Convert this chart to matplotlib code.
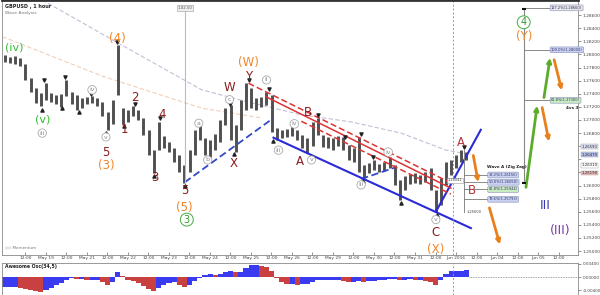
import matplotlib
matplotlib.use('Agg')
import matplotlib.pyplot as plt
import matplotlib.transforms as mtransforms
import numpy as np

# hourly axis, 3-hour bars (hours counted from left edge)
bar_hours = np.arange(91) * 3 + 1.5

highs = [1.2799, 1.2796, 1.2798, 1.2795, 1.2785, 1.2764, 1.2749, 1.2741, 1.2756, 1.2741,
         1.2738, 1.2740, 1.2761, 1.2743, 1.2738, 1.2734, 1.2735, 1.2737, 1.2734, 1.2727,
         1.2712, 1.2730, 1.2814, 1.2718, 1.2715, 1.2721, 1.2715, 1.2703, 1.2685, 1.2654,
         1.2697, 1.2676, 1.2666, 1.2657, 1.2647, 1.2631, 1.2654, 1.2685, 1.2692, 1.2673,
         1.2670, 1.2679, 1.2700, 1.2718, 1.2723, 1.2692, 1.2730, 1.2756, 1.2749, 1.2734,
         1.2735, 1.2743, 1.2738, 1.2688, 1.2685, 1.2686, 1.2691, 1.2685, 1.2677, 1.2673,
         1.2697, 1.2703, 1.2677, 1.2674, 1.2673, 1.2676, 1.2674, 1.2662, 1.2657, 1.2674,
         1.2631, 1.2634, 1.2639, 1.2633, 1.2636, 1.2644, 1.2631, 1.2608, 1.2615, 1.2618,
         1.2619, 1.2616, 1.2621, 1.2627, 1.2593, 1.2612, 1.2636, 1.2639, 1.2647, 1.2654,
         1.2651]
lows = [1.2788, 1.2787, 1.2785, 1.2782, 1.2761, 1.2743, 1.2726, 1.2721, 1.2730, 1.2727,
        1.2724, 1.2720, 1.2737, 1.2724, 1.2715, 1.2718, 1.2724, 1.2726, 1.2721, 1.2706,
        1.2685, 1.2694, 1.2738, 1.2694, 1.2697, 1.2706, 1.2700, 1.2677, 1.2647, 1.2619,
        1.2654, 1.2657, 1.2651, 1.2636, 1.2621, 1.2604, 1.2621, 1.2647, 1.2670, 1.2647,
        1.2644, 1.2654, 1.2666, 1.2692, 1.2670, 1.2651, 1.2685, 1.2715, 1.2718, 1.2715,
        1.2720, 1.2723, 1.2682, 1.2670, 1.2673, 1.2674, 1.2676, 1.2670, 1.2657, 1.2650,
        1.2660, 1.2677, 1.2659, 1.2657, 1.2654, 1.2660, 1.2654, 1.2639, 1.2636, 1.2621,
        1.2612, 1.2619, 1.2624, 1.2621, 1.2622, 1.2627, 1.2601, 1.2578, 1.2593, 1.2602,
        1.2604, 1.2602, 1.2605, 1.2593, 1.2560, 1.2570, 1.2601, 1.2616, 1.2627, 1.2636,
        1.2639]
awesome = [-0.0030, -0.0030, -0.0030, -0.0033, -0.0036, -0.0039, -0.0042, -0.0045, -0.0039, -0.0033,
           -0.0024, -0.0018, -0.0009, -0.0003, -0.0006, -0.0006, -0.0009, -0.0009, -0.0009, -0.0015,
           -0.0024, -0.0015, 0.0015, 0.0003, -0.0009, -0.0012, -0.0018, -0.0027, -0.0036, -0.0042,
           -0.0033, -0.0024, -0.0018, -0.0015, -0.0024, -0.0030, -0.0024, -0.0012, -0.0003, 0.0006,
           0.0009, 0.0006, 0.0009, 0.0015, 0.0018, 0.0015, 0.0015, 0.0027, 0.0036, 0.0036,
           0.0033, 0.0030, 0.0018, -0.0003, -0.0015, -0.0021, -0.0021, -0.0024, -0.0021, -0.0021,
           -0.0015, -0.0009, -0.0009, -0.0009, -0.0009, -0.0009, -0.0012, -0.0015, -0.0015, -0.0012,
           -0.0015, -0.0012, -0.0012, -0.0009, -0.0009, -0.0006, -0.0006, -0.0009, -0.0009, -0.0006,
           -0.0009, -0.0009, -0.0012, -0.0015, -0.0024, -0.0009, 0.0009, 0.0018, 0.0018, 0.0018,
           0.0021]

tick_hours = 13.4 + 12 * np.arange(27)
tick_labels = ['12:00', 'May 19', '12:00', 'May 21', '12:00', 'May 22', '12:00', 'May 23',
               '12:00', 'May 24', '12:00', 'May 25', '12:00', 'May 26', '12:00', 'May 29',
               '12:00', 'May 30', '12:00', 'May 31', '12:00', 'Jun 2016', '12:00', 'Jun 04',
               '12:00', 'Jun 05', '12:00']
price_ticks = np.arange(1.250, 1.2861, 0.002)

# moving averages (dashed)
ma_slow_h = [23.3, 70.0, 116.6, 145.8, 174.9, 204.1, 233.2, 259.5, 274.1]
ma_slow_p = [1.2883, 1.2814, 1.2746, 1.2726, 1.2708, 1.2697, 1.2680, 1.2654, 1.2647]
ma_fast_h = [0, 58.3, 116.6, 151.6]
ma_fast_p = [1.2827, 1.2767, 1.2718, 1.2703]

# trend lines: (hours, prices)
blue_dashed = [([106.7, 158.6], [1.2605, 1.2703]), ([209.9, 229.2], [1.2610, 1.2627])]
blue_solid = [([158.6, 274.1], [1.2673, 1.2535]), ([253.6, 279.9], [1.2560, 1.2685])]
red_lines = [([144.0, 262.4], [1.2756, 1.2604], '--'),
             ([154.5, 262.4], [1.2735, 1.2596], '-'),
             ([174.9, 262.4], [1.2698, 1.2587], '--')]

# projection arrows: (start h, start p, end h, end p)
green_arrows = [(306.1, 1.2593, 313.1, 1.2726), (316.6, 1.2730, 320.7, 1.2799)]
orange_arrows = [(275.2, 1.2650, 278.7, 1.2601), (284.5, 1.2570, 291.5, 1.2506),
                 (315.5, 1.2723, 320.1, 1.2663), (322.4, 1.2796, 327.7, 1.2741)]

# swing markers
swing_highs_h = [24.5, 36.7, 51.9, 67.1, 77.6, 92.1, 114.9, 132.9, 144.0, 155.7, 170.3, 184.8, 200.6, 209.9, 216.9, 270.0]
swing_highs_p = [1.2761, 1.2766, 1.2740, 1.2819, 1.2724, 1.2703, 1.2697, 1.2724, 1.2761, 1.2747, 1.2692, 1.2708, 1.2674, 1.2679, 1.2644, 1.2659]
swing_lows_h = [23.3, 35.0, 44.9, 60.6, 71.1, 88.6, 106.7, 120.1, 135.3, 158.6, 180.8, 211.1, 233.2, 254.2]
swing_lows_p = [1.2715, 1.2718, 1.2712, 1.2680, 1.2691, 1.2615, 1.2599, 1.2642, 1.2648, 1.2668, 1.2645, 1.2607, 1.2573, 1.2555]

# wave labels: text, hour, price, style
wave_labels = [
    ('(iv)', 7.0, 1.2810, 'g'), ('(v)', 23.3, 1.2700, 'g'), ('iii', 23.3, 1.2680, 'c'),
    ('iv', 52.5, 1.2746, 'c'), ('v', 60.6, 1.2674, 'c'), ('5', 60.6, 1.2651, 'r'),
    ('(3)', 60.6, 1.2631, 'o'), ('(4)', 67.1, 1.2825, 'o'), ('1', 71.1, 1.2685, 'r'),
    ('2', 77.6, 1.2734, 'r'), ('4', 93.3, 1.2708, 'r'), ('3', 89.2, 1.2612, 'r'),
    ('5', 106.7, 1.2593, 'r'), ('(5)', 106.7, 1.2567, 'o'), ('3', 107.9, 1.2548, 'gc'),
    ('a', 114.9, 1.2695, 'c'), ('b', 120.1, 1.2639, 'c'), ('c', 132.9, 1.2731, 'c'),
    ('W', 132.9, 1.2749, 'r'), ('X', 135.3, 1.2634, 'r'), ('Y', 144.0, 1.2766, 'r'),
    ('(W)', 144.0, 1.2787, 'o'), ('ii', 154.5, 1.2761, 'c'), ('iii', 161.5, 1.2654, 'c'),
    ('iv', 170.8, 1.2694, 'c'), ('A', 174.3, 1.2636, 'r'), ('v', 180.8, 1.2639, 'c'),
    ('B', 179.0, 1.2712, 'r'), ('iii', 209.9, 1.2601, 'c'), ('iv', 225.7, 1.2651, 'c'),
    ('v', 253.6, 1.2548, 'c'), ('C', 253.6, 1.2528, 'r'), ('(X)', 253.6, 1.2502, 'o'),
    ('A', 268.2, 1.2666, 'r2'), ('B', 274.6, 1.2593, 'r2'), ('4', 305.0, 1.2849, 'gc'),
    ('(Y)', 305.0, 1.2828, 'o'), ('III', 317.8, 1.2570, 'b'), ('(III)', 326.5, 1.2532, 'p'),
]

# fibonacci tools
fib_ab_levels = [1.2616, 1.2605, 1.2594, 1.2579]
fib_ab_texts = ['38.2%(1.26156)', '50.0%(1.26050)', '61.8%(1.25944)', '78.6%(1.25793)']
fib_ab_colors = ['#c9d2f2', '#c9d2f2', '#c8ecc0', '#c9d2f2']
fib_ext_levels = [1.2871, 1.2807, 1.2730]
fib_ext_texts = ['127.2%(1.28660)', '100.0%(1.28000)', '61.8%(1.27300)']
fib_ext_colors = ['#e6e6e6', '#c9d2f2', '#c8ecc0']

# highlighted quotes on the price axis
quote_prices = [1.2659, 1.2647, 1.2631, 1.2619]
quote_texts = ['1.26590', '1.26470', '1.26310', '1.26190']
quote_colors = ['#dfe3f5', '#b8c2ee', 'white', '#f2c0c0']

styles = {
    'r': dict(color='#8b1c1c', fontsize=8.5),
    'r2': dict(color='#b03a3a', fontsize=8.5),
    'o': dict(color='#f0862a', fontsize=8.5),
    'g': dict(color='#33bb33', fontsize=8),
    'b': dict(color='#3a3ab0', fontsize=9),
    'p': dict(color='#7a3aa8', fontsize=9),
}

fig = plt.figure(figsize=(6, 2.95), dpi=100)
ax = fig.add_axes([0.004, 40 / 295, 0.96, 255 / 295])
osc = fig.add_axes([0.004, 0.0, 0.96, 32 / 295])

ax.set_xlim(0, 337)
ax.set_ylim(1.2494, 1.2883)

ax.plot(ma_slow_h, ma_slow_p, color='#c8bcd8', lw=0.8, ls=(0, (4, 2)))
ax.plot(ma_fast_h, ma_fast_p, color='#f2cfb8', lw=0.8, ls=(0, (4, 2)))

ax.vlines(bar_hours, lows, highs, color='#505050', lw=2.1)

ax.scatter(swing_highs_h, swing_highs_p, marker='v', s=5, color='#222222', zorder=4)
ax.scatter(swing_lows_h, swing_lows_p, marker='^', s=5, color='#222222', zorder=4)

for hh, pp in blue_dashed:
    ax.plot(hh, pp, color='#3348c8', lw=1.3, ls=(0, (4, 2)))
for hh, pp in blue_solid:
    ax.plot(hh, pp, color='#2a2ad8', lw=1.5)
for hh, pp, ls in red_lines:
    ax.plot(hh, pp, color='#dd3333', lw=1.1, ls=ls if ls == '-' else (0, (4, 2)))

for h0, p0, h1, p1 in green_arrows:
    ax.annotate('', xy=(h1, p1), xytext=(h0, p0),
                arrowprops=dict(arrowstyle='-|>', color='#5aac2a', lw=2, mutation_scale=6))
for h0, p0, h1, p1 in orange_arrows:
    ax.annotate('', xy=(h1, p1), xytext=(h0, p0),
                arrowprops=dict(arrowstyle='-|>', color='#e8801e', lw=2, mutation_scale=6))

# vertical reference lines
ax.plot([106.7, 106.7], [1.2601, 1.2871], color='#bbbbbb', lw=0.8)
ax.text(106.7, 1.2871, '1.02.50', fontsize=2.8, color='#555555', ha='center', va='center',
        bbox=dict(boxstyle='square,pad=0.2', fc='#eeeeee', ec='#999999', lw=0.4))
ax.axvline(263.6, color='#999999', lw=0.7, ls=(0, (2, 2)))
osc.axvline(263.6, color='#999999', lw=0.7, ls=(0, (2, 2)))

# fib on A-B
ax.plot([270.0, 270.0], [1.2560, 1.2654], color='#888888', lw=0.7)
for lev, txt, c in zip(fib_ab_levels, fib_ab_texts, fib_ab_colors):
    ax.plot([270.0, 284.0], [lev, lev], color='#777777', lw=0.6)
    ax.text(284.5, lev, txt, fontsize=2.6, color='#333366', va='center', ha='left',
            bbox=dict(boxstyle='round,pad=0.25', fc=c, ec='#8890b8', lw=0.4))
ax.text(283.5, 1.2628, 'Wave A (Zig Zag)', fontsize=3, fontweight='bold', color='#222222', va='center')
ax.text(269.0, 1.2608, '1.26041', fontsize=2.6, color='#444444', ha='right', va='center',
        bbox=dict(boxstyle='square,pad=0.2', fc='white', ec='#999999', lw=0.4))
ax.text(271.7, 1.2560, '1.25600', fontsize=2.6, color='#444444', ha='left', va='center')

# fib extension
ax.plot([305.0, 305.0], [1.2604, 1.2871], color='#888888', lw=0.8)
ax.scatter([305.0, 305.0], [1.2604, 1.2869], marker='_', s=12, color='#111111', zorder=4)
for lev, txt, c in zip(fib_ext_levels, fib_ext_texts, fib_ext_colors):
    ax.plot([305.0, 320.7], [lev, lev], color='#888888', lw=0.7)
    ax.text(321.0, lev, txt, fontsize=2.6, color='#333366', va='center', ha='left',
            bbox=dict(boxstyle='round,pad=0.25', fc=c, ec='#8890b8', lw=0.4))
ax.text(333.5, 1.2719, '4vs 3', fontsize=3, fontweight='bold', color='#222222', ha='center', va='center')

for txt, h, p, kind in wave_labels:
    if kind == 'c':
        ax.text(h, p, txt, fontsize=4.5, color='#8a8a8a', ha='center', va='center', zorder=5,
                bbox=dict(boxstyle='circle,pad=0.25', fc='white', ec='#aaaaaa', lw=0.6))
    elif kind == 'gc':
        ax.text(h, p, txt, fontsize=7, color='#2f9a2f', ha='center', va='center', zorder=5,
                bbox=dict(boxstyle='circle,pad=0.15', fc='white', ec='#44aa44', lw=0.7))
    else:
        ax.text(h, p, txt, ha='center', va='center', zorder=5, **styles[kind])

ax.text(0.005, 0.985, 'GBPUSD , 1 hour', transform=ax.transAxes, fontsize=3.5,
        fontweight='bold', color='#222222', va='top')
ax.text(0.005, 0.955, 'Wave Analysis', transform=ax.transAxes, fontsize=3.2, color='#777777', va='top')
ax.text(0.005, 0.02, '\u25c7\u25c7 Momentum', transform=ax.transAxes, fontsize=3, color='#777777', va='bottom')

trans = mtransforms.blended_transform_factory(ax.transAxes, ax.transData)
for p, txt, c in zip(quote_prices, quote_texts, quote_colors):
    ax.text(1.006, p, txt, transform=trans, fontsize=2.8, color='#222222', va='center', ha='left',
            bbox=dict(boxstyle='square,pad=0.1', fc=c, ec='#999999', lw=0.3), zorder=6, clip_on=False)

ax.yaxis.tick_right()
ax.set_yticks(price_ticks)
# quotes cover the 1.262-1.266 labels, as on the reference
ax.set_yticklabels(['' if 1.2615 < v < 1.2665 else f'{v:.5f}' for v in price_ticks])
ax.tick_params(axis='y', labelsize=3.2, length=2, width=0.4, pad=1, colors='#444444')
ax.set_xticks(tick_hours)
ax.set_xticklabels(tick_labels)
ax.tick_params(axis='x', labelsize=3.2, length=2, width=0.4, pad=1, colors='#444444', direction='in')
for s in ax.spines.values():
    s.set_color('#888888')
    s.set_linewidth(0.6)
ax.spines['top'].set_color('#333333')
ax.spines['top'].set_linewidth(2)

# awesome oscillator
osc.set_xlim(0, 337)
osc.set_ylim(-0.0055, 0.0043)
prev = np.concatenate([[awesome[0]], awesome[:-1]])
colors = ['#3a3af0' if a >= b else '#c84040' for a, b in zip(awesome, prev)]
osc.bar(bar_hours, awesome, width=3.0, color=colors, linewidth=0)
osc.plot([bar_hours[-1] + 1.5, 337], [0, 0], color='#888888', lw=0.6, ls=(0, (1, 1)))
osc.text(0.005, 0.97, 'Awesome Osc(34,5)', transform=osc.transAxes, fontsize=3.3,
         fontweight='bold', color='#222222', va='top')
osc.yaxis.tick_right()
osc.set_yticks([-0.004, 0.0, 0.004])
osc.set_yticklabels(['-0.00400', '0.00000', '0.00400'])
osc.tick_params(axis='y', labelsize=3, length=2, width=0.4, pad=1, colors='#444444')
osc.set_xticks([])
for s in osc.spines.values():
    s.set_color('#888888')
    s.set_linewidth(0.6)

fig.savefig('out.png', dpi=100)
